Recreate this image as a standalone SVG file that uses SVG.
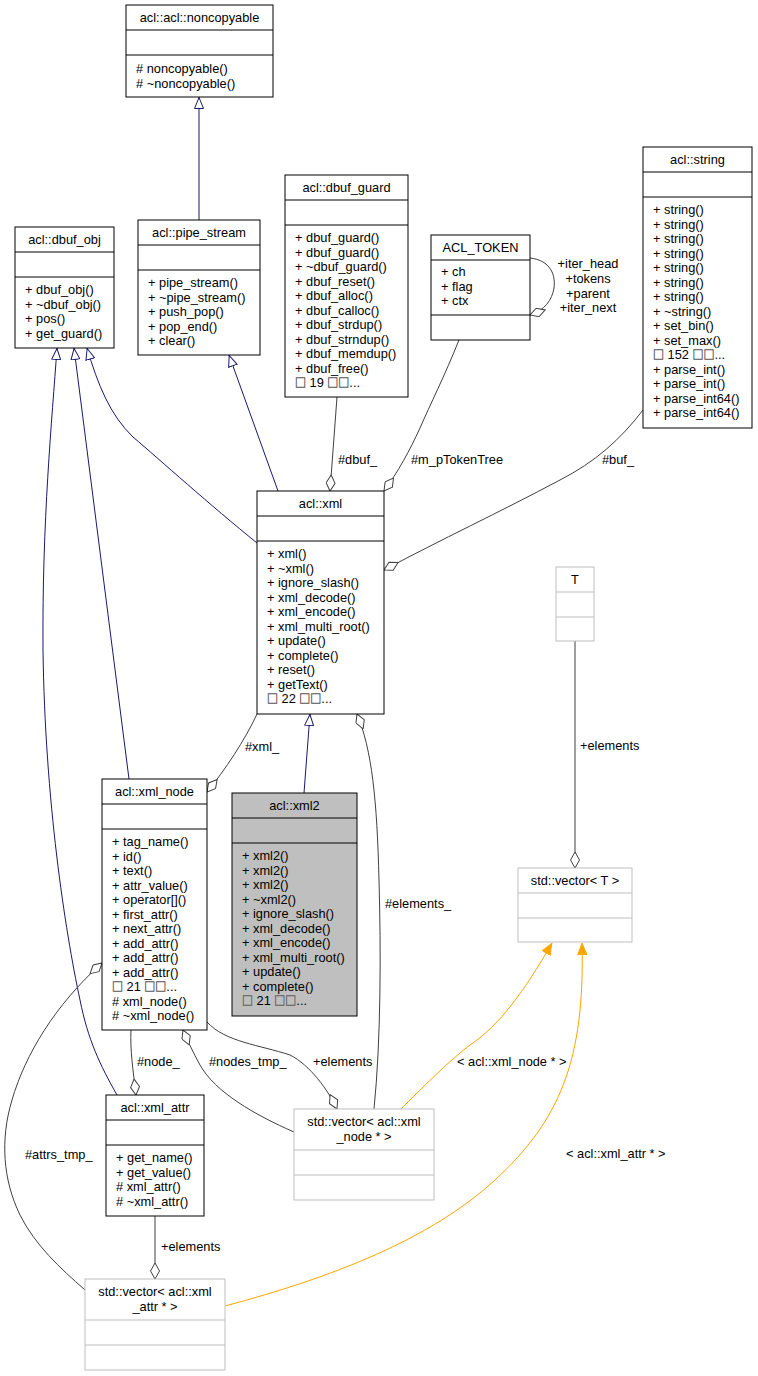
<svg xmlns="http://www.w3.org/2000/svg" width="758" height="1376" viewBox="0 0 758 1376">
<style>
text{font-family:"Liberation Sans",Arial,sans-serif;font-size:12.8px;fill:#000}
.t{text-anchor:middle}
.q{font-family:"Noto Sans CJK SC","DejaVu Sans",sans-serif;font-size:11px;fill:#fff;stroke:#555;stroke-width:0.5}
.box{fill:#fff;stroke:#000;stroke-width:1}
.gbox{fill:#fff;stroke:#bfbfbf;stroke-width:1}
.cur{fill:#bfbfbf;stroke:#000;stroke-width:1}
.dv{stroke:#000;stroke-width:1}
.gdv{stroke:#bfbfbf;stroke-width:1}
.e{fill:none;stroke-width:1}
.inh{stroke:#191970;marker-end:url(#tri)}
.agg{stroke:#404040;marker-end:url(#dia)}
.tpl{stroke:#ffa500;marker-end:url(#otri)}
</style>
<defs>
<marker id="tri" viewBox="0 0 12 10" refX="12" refY="5" markerWidth="12" markerHeight="10" orient="auto" markerUnits="userSpaceOnUse"><path d="M0.5,0.5 L11.5,5 L0.5,9.5 Z" fill="#fff" stroke="#191970"/></marker>
<marker id="dia" viewBox="0 0 17 10" refX="16.5" refY="5" markerWidth="17" markerHeight="10" orient="auto" markerUnits="userSpaceOnUse"><path d="M0.5,5 L8.5,0.5 L16.5,5 L8.5,9.5 Z" fill="#fff" stroke="#404040"/></marker>
<marker id="otri" viewBox="0 0 12 10" refX="12" refY="5" markerWidth="12" markerHeight="10" orient="auto" markerUnits="userSpaceOnUse"><path d="M0.5,0.5 L11.5,5 L0.5,9.5 Z" fill="#ffa500" stroke="#ffa500"/></marker>
</defs>

<g id="edges">
<path class="e inh" d="M199,220 L199,97"/>
<path class="e inh" d="M278,491 L229,355"/>
<path class="e inh" d="M257,543 C210,505 160,460 133,437 C110,415 98,385 87,348"/>
<path class="e inh" d="M129,779 L74,348"/>
<path class="e inh" d="M117,1095 C100,1065 88,1040 80,1000 C65,930 45,800 43,650 C42,520 52,420 57,348"/>
<path class="e inh" d="M304,793 L310,714"/>

<path class="e agg" d="M337,397 L330,491"/>
<text x="338" y="464">#dbuf_</text>
<path class="e agg" d="M459,340 C445,375 430,405 420,428 C410,450 398,472 384,491"/>
<text x="411" y="464">#m_pTokenTree</text>
<path class="e agg" d="M530,258 C548,260 556,272 554,288 C552,300 545,310 530,315"/>
<text class="t" x="588" y="268">+iter_head</text>
<text class="t" x="588" y="283">+tokens</text>
<text class="t" x="588" y="298">+parent</text>
<text class="t" x="588" y="312">+iter_next</text>
<path class="e agg" d="M643,410 C620,440 595,462 560,480 C500,512 440,540 384,570"/>
<text x="602" y="464">#buf_</text>
<path class="e agg" d="M257,714 C245,740 225,770 207,792"/>
<text x="245" y="751">#xml_</text>
<path class="e agg" d="M575,641 L575,868"/>
<text x="580" y="750">+elements</text>
<path class="e agg" d="M207,1022 C225,1042 260,1045 290,1055 C310,1065 328,1090 337,1109"/>
<text x="313" y="1066">+elements</text>
<path class="e agg" d="M294,1132 C255,1115 215,1092 200,1065 C193,1052 188,1042 183,1030"/>
<text x="209" y="1066">#nodes_tmp_</text>
<path class="e agg" d="M374,1109 C381,1040 381,950 379,880 C377,800 372,750 357,714"/>
<text x="385" y="908">#elements_</text>
<path class="e agg" d="M131,1030 C130,1050 133,1070 136,1095"/>
<text x="137" y="1066">#node_</text>
<path class="e agg" d="M85,1290 C60,1268 35,1245 20,1215 C3,1180 0,1140 12,1100 C25,1055 55,1005 102,963"/>
<text x="25" y="1159">#attrs_tmp_</text>
<path class="e agg" d="M155,1216 L155,1279"/>
<text x="161" y="1251">+elements</text>

<path class="e tpl" d="M401,1109 C425,1085 450,1060 470,1045 C500,1025 525,990 552,943"/>
<text x="457" y="1066">&lt; acl::xml_node * &gt;</text>
<path class="e tpl" d="M225,1306 C330,1278 430,1240 495,1180 C560,1120 585,1060 582,943"/>
<text x="566" y="1158">&lt; acl::xml_attr * &gt;</text>
</g>

<g id="noncopyable">
<rect class="box" x="126" y="5" width="147" height="92"/>
<line class="dv" x1="126" y1="30" x2="273" y2="30"/>
<line class="dv" x1="126" y1="55" x2="273" y2="55"/>
<text class="t" x="199.5" y="22">acl::acl::noncopyable</text>
<text x="136" y="73"># noncopyable()</text>
<text x="136" y="87.5"># ~noncopyable()</text>
</g>

<g id="dbuf_obj">
<rect class="box" x="15" y="227" width="99" height="121"/>
<line class="dv" x1="15" y1="252" x2="114" y2="252"/>
<line class="dv" x1="15" y1="277" x2="114" y2="277"/>
<text class="t" x="64.5" y="244">acl::dbuf_obj</text>
<text x="25" y="294">+ dbuf_obj()</text>
<text x="25" y="308.5">+ ~dbuf_obj()</text>
<text x="25" y="323">+ pos()</text>
<text x="25" y="337.5">+ get_guard()</text>
</g>

<g id="pipe_stream">
<rect class="box" x="138" y="220" width="122" height="135"/>
<line class="dv" x1="138" y1="245" x2="260" y2="245"/>
<line class="dv" x1="138" y1="270" x2="260" y2="270"/>
<text class="t" x="199" y="237">acl::pipe_stream</text>
<text x="148" y="287">+ pipe_stream()</text>
<text x="148" y="301.5">+ ~pipe_stream()</text>
<text x="148" y="316">+ push_pop()</text>
<text x="148" y="330.5">+ pop_end()</text>
<text x="148" y="345">+ clear()</text>
</g>

<g id="dbuf_guard">
<rect class="box" x="285" y="175" width="123" height="222"/>
<line class="dv" x1="285" y1="200" x2="408" y2="200"/>
<line class="dv" x1="285" y1="225" x2="408" y2="225"/>
<text class="t" x="346.5" y="192">acl::dbuf_guard</text>
<text x="295" y="242">+ dbuf_guard()</text>
<text x="295" y="256.5">+ dbuf_guard()</text>
<text x="295" y="271">+ ~dbuf_guard()</text>
<text x="295" y="285.5">+ dbuf_reset()</text>
<text x="295" y="300">+ dbuf_alloc()</text>
<text x="295" y="314.5">+ dbuf_calloc()</text>
<text x="295" y="329">+ dbuf_strdup()</text>
<text x="295" y="343.5">+ dbuf_strndup()</text>
<text x="295" y="358">+ dbuf_memdup()</text>
<text x="295" y="372.5">+ dbuf_free()</text>
<text x="295" y="387"><tspan class="q">□</tspan> 19 <tspan class="q">□□</tspan>...</text>
</g>

<g id="acl_token">
<rect class="box" x="431" y="235" width="99" height="105"/>
<line class="dv" x1="431" y1="260" x2="530" y2="260"/>
<line class="dv" x1="431" y1="315" x2="530" y2="315"/>
<text class="t" x="480.5" y="252">ACL_TOKEN</text>
<text x="441" y="276">+ ch</text>
<text x="441" y="290.5">+ flag</text>
<text x="441" y="305">+ ctx</text>
</g>

<g id="string">
<rect class="box" x="643" y="147" width="109" height="281"/>
<line class="dv" x1="643" y1="172" x2="752" y2="172"/>
<line class="dv" x1="643" y1="197" x2="752" y2="197"/>
<text class="t" x="697.5" y="164">acl::string</text>
<text x="653" y="214">+ string()</text>
<text x="653" y="228.5">+ string()</text>
<text x="653" y="243">+ string()</text>
<text x="653" y="257.5">+ string()</text>
<text x="653" y="272">+ string()</text>
<text x="653" y="286.5">+ string()</text>
<text x="653" y="301">+ string()</text>
<text x="653" y="315.5">+ ~string()</text>
<text x="653" y="330">+ set_bin()</text>
<text x="653" y="344.5">+ set_max()</text>
<text x="653" y="359"><tspan class="q">□</tspan> 152 <tspan class="q">□□</tspan>...</text>
<text x="653" y="373.5">+ parse_int()</text>
<text x="653" y="388">+ parse_int()</text>
<text x="653" y="402.5">+ parse_int64()</text>
<text x="653" y="417">+ parse_int64()</text>
</g>

<g id="xml">
<rect class="box" x="257" y="491" width="127" height="223"/>
<line class="dv" x1="257" y1="516" x2="384" y2="516"/>
<line class="dv" x1="257" y1="541" x2="384" y2="541"/>
<text class="t" x="320.5" y="508">acl::xml</text>
<text x="267" y="558">+ xml()</text>
<text x="267" y="572.5">+ ~xml()</text>
<text x="267" y="587">+ ignore_slash()</text>
<text x="267" y="601.5">+ xml_decode()</text>
<text x="267" y="616">+ xml_encode()</text>
<text x="267" y="630.5">+ xml_multi_root()</text>
<text x="267" y="645">+ update()</text>
<text x="267" y="659.5">+ complete()</text>
<text x="267" y="674">+ reset()</text>
<text x="267" y="688.5">+ getText()</text>
<text x="267" y="703"><tspan class="q">□</tspan> 22 <tspan class="q">□□</tspan>...</text>
</g>

<g id="T">
<rect class="gbox" x="556" y="567" width="38" height="74"/>
<line class="gdv" x1="556" y1="592" x2="594" y2="592"/>
<line class="gdv" x1="556" y1="617" x2="594" y2="617"/>
<text class="t" x="575" y="584">T</text>
</g>

<g id="vector_T">
<rect class="gbox" x="518" y="868" width="114" height="74"/>
<line class="gdv" x1="518" y1="893" x2="632" y2="893"/>
<line class="gdv" x1="518" y1="918" x2="632" y2="918"/>
<text class="t" x="575" y="885">std::vector&lt; T &gt;</text>
</g>

<g id="xml_node">
<rect class="box" x="102" y="779" width="105" height="251"/>
<line class="dv" x1="102" y1="804" x2="207" y2="804"/>
<line class="dv" x1="102" y1="829" x2="207" y2="829"/>
<text class="t" x="154.5" y="796">acl::xml_node</text>
<text x="112" y="846">+ tag_name()</text>
<text x="112" y="860.5">+ id()</text>
<text x="112" y="875">+ text()</text>
<text x="112" y="889.5">+ attr_value()</text>
<text x="112" y="904">+ operator[]()</text>
<text x="112" y="918.5">+ first_attr()</text>
<text x="112" y="933">+ next_attr()</text>
<text x="112" y="947.5">+ add_attr()</text>
<text x="112" y="962">+ add_attr()</text>
<text x="112" y="976.5">+ add_attr()</text>
<text x="112" y="991"><tspan class="q">□</tspan> 21 <tspan class="q">□□</tspan>...</text>
<text x="112" y="1005.5"># xml_node()</text>
<text x="112" y="1020"># ~xml_node()</text>
</g>

<g id="xml2">
<rect class="cur" x="232" y="793" width="125" height="223"/>
<line class="dv" x1="232" y1="818" x2="357" y2="818"/>
<line class="dv" x1="232" y1="843" x2="357" y2="843"/>
<text class="t" x="294.5" y="810">acl::xml2</text>
<text x="242" y="860">+ xml2()</text>
<text x="242" y="874.5">+ xml2()</text>
<text x="242" y="889">+ xml2()</text>
<text x="242" y="903.5">+ ~xml2()</text>
<text x="242" y="918">+ ignore_slash()</text>
<text x="242" y="932.5">+ xml_decode()</text>
<text x="242" y="947">+ xml_encode()</text>
<text x="242" y="961.5">+ xml_multi_root()</text>
<text x="242" y="976">+ update()</text>
<text x="242" y="990.5">+ complete()</text>
<text x="242" y="1005"><tspan class="q">□</tspan> 21 <tspan class="q">□□</tspan>...</text>
</g>

<g id="xml_attr">
<rect class="box" x="106" y="1095" width="98" height="121"/>
<line class="dv" x1="106" y1="1120" x2="204" y2="1120"/>
<line class="dv" x1="106" y1="1145" x2="204" y2="1145"/>
<text class="t" x="155" y="1112">acl::xml_attr</text>
<text x="116" y="1162">+ get_name()</text>
<text x="116" y="1176.5">+ get_value()</text>
<text x="116" y="1191"># xml_attr()</text>
<text x="116" y="1205.5"># ~xml_attr()</text>
</g>

<g id="vector_xml_node">
<rect class="gbox" x="294" y="1109" width="140" height="91"/>
<line class="gdv" x1="294" y1="1150" x2="434" y2="1150"/>
<line class="gdv" x1="294" y1="1175" x2="434" y2="1175"/>
<text class="t" x="364" y="1126">std::vector&lt; acl::xml</text>
<text class="t" x="364" y="1140.5">_node * &gt;</text>
</g>

<g id="vector_xml_attr">
<rect class="gbox" x="85" y="1279" width="140" height="91"/>
<line class="gdv" x1="85" y1="1320" x2="225" y2="1320"/>
<line class="gdv" x1="85" y1="1345" x2="225" y2="1345"/>
<text class="t" x="155" y="1296">std::vector&lt; acl::xml</text>
<text class="t" x="155" y="1310.5">_attr * &gt;</text>
</g>
</svg>
